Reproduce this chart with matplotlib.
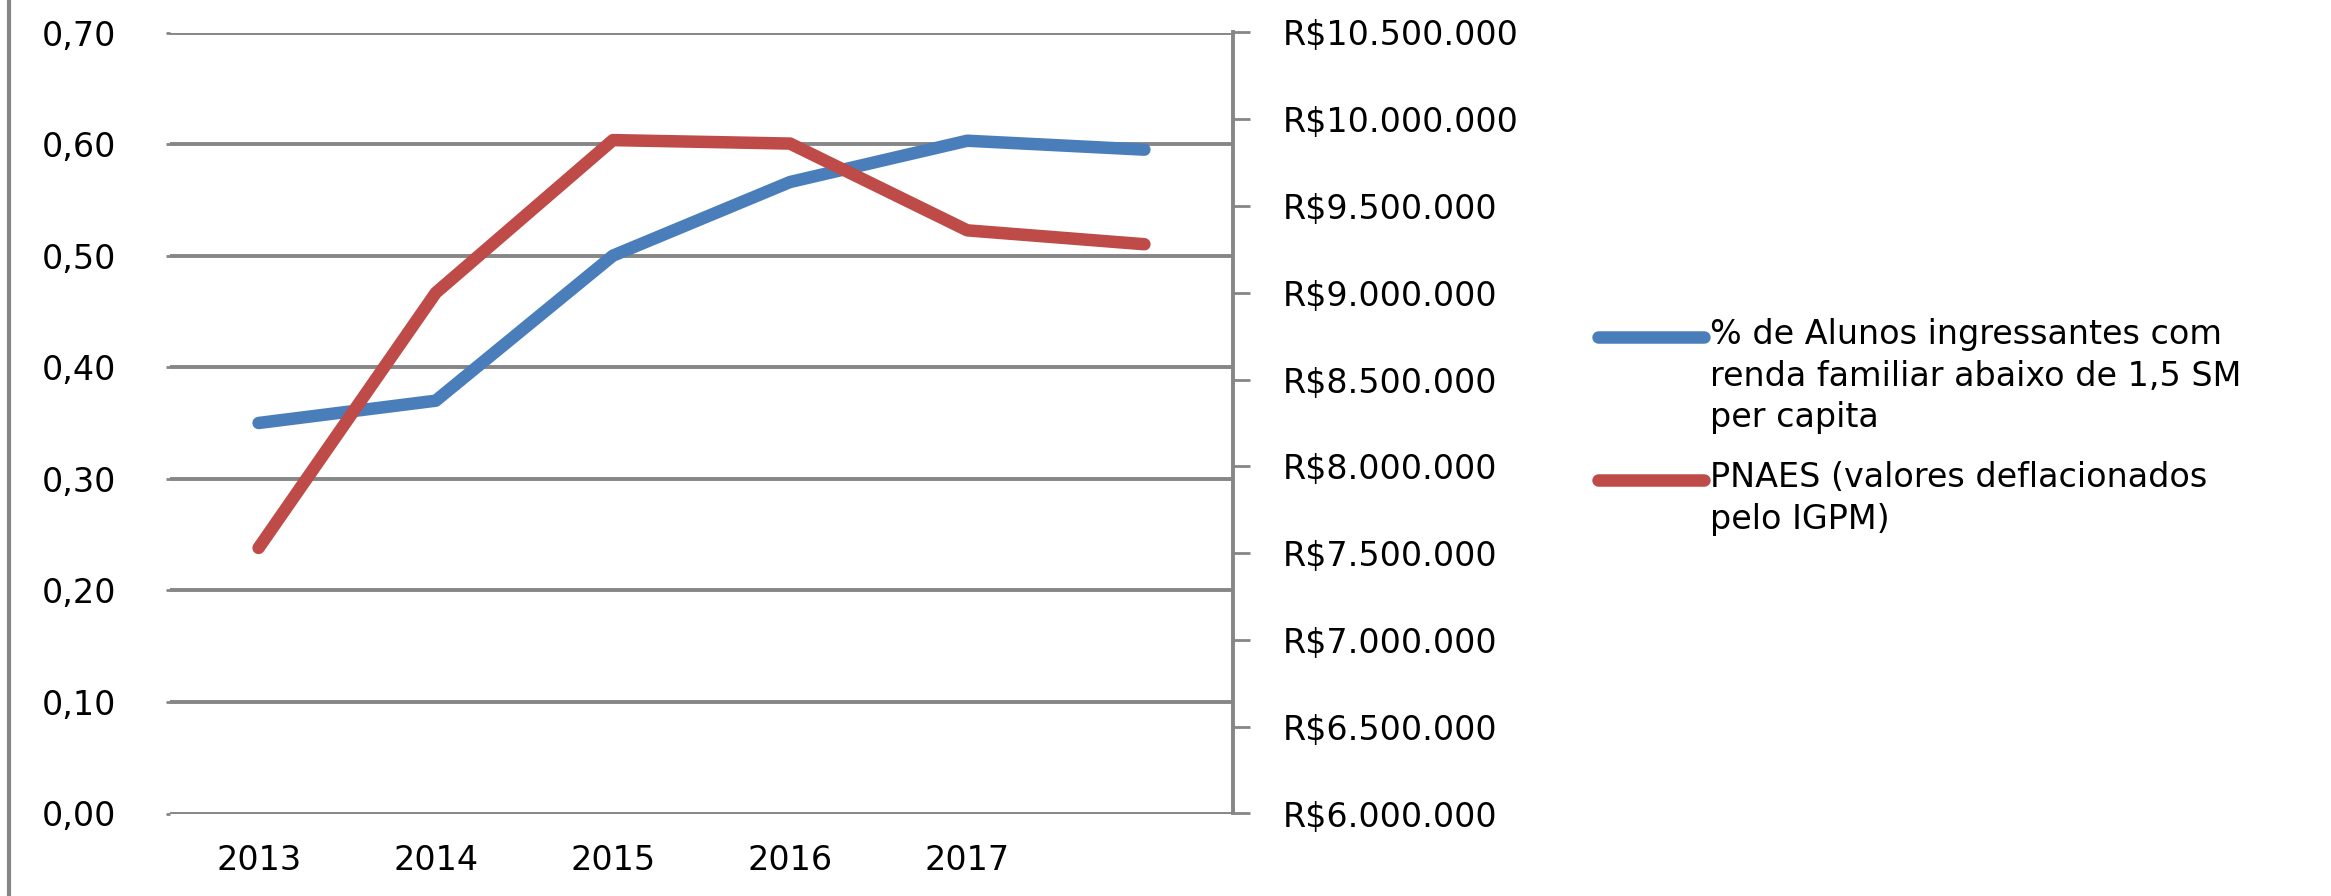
import matplotlib
matplotlib.use("Agg")
import matplotlib.pyplot as plt
from matplotlib.lines import Line2D
import numpy as np

years = ["2013", "2014", "2015", "2016", "2017", ""]
pct_alunos = [0.35, 0.37, 0.50, 0.566, 0.603, 0.595]
pnaes = [7530000, 9000000, 9880000, 9860000, 9360000, 9280000]

label_alunos = "% de Alunos ingressantes com\nrenda familiar abaixo de 1,5 SM\nper capita"
label_pnaes = "PNAES (valores deflacionados\npelo IGPM)"

left_ticks = np.arange(0, 0.71, 0.1)
right_ticks = np.arange(6000000, 10500001, 500000)

BLUE = "#4A7EBB"
RED = "#BE4B48"
GRID = "#868686"
FS = 24
LW = 9
W, H = 2331, 896

plt.rcParams["font.family"] = ["DejaVu Sans"]

fig = plt.figure(figsize=(W / 100, H / 100), dpi=100)
ax = fig.add_axes([170 / W, 1 - 813.5 / H, (1233 - 170) / W, (813.5 - 32.5) / H])
ax2 = ax.twinx()

x = np.arange(len(years))
l1, = ax.plot(x, pct_alunos, color=BLUE, lw=LW, solid_capstyle="round",
              solid_joinstyle="round")
l2, = ax2.plot(x, pnaes, color=RED, lw=LW, solid_capstyle="round",
               solid_joinstyle="round")

ax.set_xlim(-0.5, len(years) - 0.5)
ax.set_ylim(0, 0.7)
ax2.set_ylim(6000000, 10500000)

ax.set_xticks(x)
ax.set_xticklabels(years, fontsize=FS)
ax.tick_params(axis="x", length=0, pad=22)

ax.set_yticks(left_ticks)
ax.set_yticklabels([f"{v:.2f}".replace(".", ",") for v in left_ticks], fontsize=FS)
ax.tick_params(axis="y", length=3, width=2, color=GRID, pad=36)
ax.yaxis.grid(True, color=GRID, lw=2.8)
ax.set_axisbelow(True)

ax2.set_yticks(right_ticks)
ax2.set_yticklabels(["R$" + f"{int(v):,}".replace(",", ".") for v in right_ticks], fontsize=FS)
ax2.tick_params(axis="y", length=12, width=2, color=GRID, pad=24)

for a in (ax, ax2):
    for s in ["top", "left", "bottom", "right"]:
        a.spines[s].set_visible(False)
ax2.spines["right"].set_visible(True)
ax2.spines["right"].set_color(GRID)
ax2.spines["right"].set_linewidth(2.8)

# legend drawn by hand so the key sits on the first text line, as in Excel
for line, label, ytop in [(l1, label_alunos, 337), (l2, label_pnaes, 480)]:
    fig.add_artist(Line2D([1598 / W, 1704 / W], [1 - ytop / H] * 2, color=line.get_color(),
                          lw=LW, solid_capstyle="round", transform=fig.transFigure))
    fig.text(1710 / W, 1 - (ytop - 19) / H, label, fontsize=FS, ha="left", va="top",
             linespacing=1.33)

# chart-area border on the left edge
fig.add_artist(Line2D([9 / W, 9 / W], [0, 1], color=GRID, lw=3, transform=fig.transFigure))

fig.savefig("out.png", dpi=100)
